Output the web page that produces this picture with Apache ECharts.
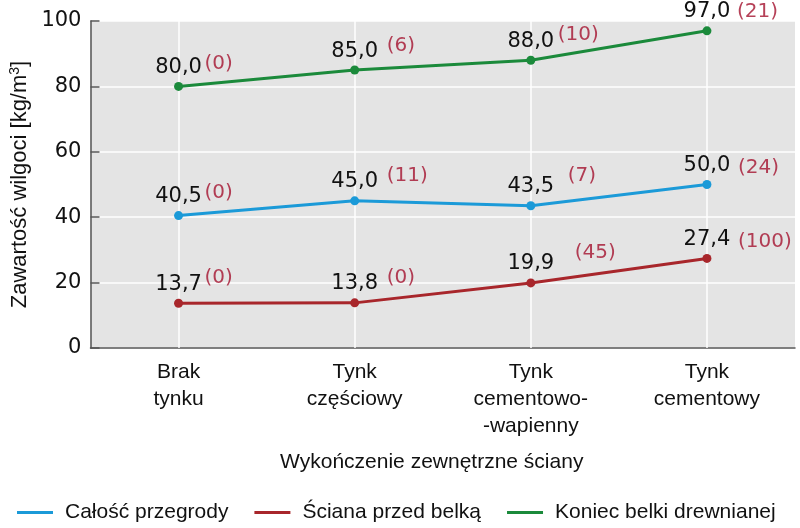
<!DOCTYPE html>
<html lang="pl">
<head>
    <meta charset="UTF-8">
    <title>Zawartość wilgoci</title>
    <script src="https://cdn.jsdelivr.net/npm/echarts@6.0.0/dist/echarts.min.js"></script>
    <style>
        html, body { margin: 0; padding: 0; background: #fff; }
    </style>
</head>
<body>

    <div id="main" style="width:800px; height:528px;"></div>

    <script>
        // dane
        var categories = ['Brak\ntynku', 'Tynk\nczęściowy', 'Tynk\ncementowo-\n-wapienny', 'Tynk\ncementowy'];
        var seriesNames = ['Całość przegrody', 'Ściana przed belką', 'Koniec belki drewnianej'];
        var calosc = [40.5, 45.0, 43.5, 50.0];
        var sciana = [13.7, 13.8, 19.9, 27.4];
        var koniec = [80.0, 85.0, 88.0, 97.0];
        // liczby w nawiasach
        var caloscNote = [0, 11, 7, 24];
        var scianaNote = [0, 0, 45, 100];
        var koniecNote = [0, 6, 10, 21];
        var yTicks = [0, 20, 40, 60, 80, 100];

        // przesunięcia czerwonych opisów względem punktu [dx, dy]
        var noteOffset = [
            [[26, -23], [32, -25], [37, -30], [31, -17]],
            [[26, -25], [32, -25], [44, -30], [31, -17]],
            [[26, -23], [32, -24], [27, -25], [30, -19]]
        ];

        var colors = ['#1b9ad8', '#a8262b', '#1b8a3b'];
        var values = [calosc, sciana, koniec];
        var notes = [caloscNote, scianaNote, koniecNote];

        var charts = echarts.init(document.getElementById('main'));

        // pionowe białe linie siatki na środku kategorii
        var series = [{
            name: 'grid',
            type: 'line',
            data: [],
            silent: true,
            z: 1,
            markLine: {
                silent: true,
                z: 1,
                symbol: 'none',
                animation: false,
                label: { show: false },
                lineStyle: { color: '#fff', width: 1.5, type: 'solid' },
                emphasis: { disabled: true },
                data: categories.map(function (c) { return { xAxis: c }; })
            }
        }];

        values.forEach(function (vals, k) {
            series.push({
                name: seriesNames[k],
                type: 'line',
                data: vals,
                symbol: 'circle',
                symbolSize: 9,
                color: colors[k],
                lineStyle: { width: 3, color: colors[k] },
                itemStyle: { color: colors[k] },
                label: {
                    show: true,
                    position: 'top',
                    distance: 4,
                    fontFamily: 'DejaVu Sans',
                    fontSize: 21,
                    color: '#111',
                    formatter: function (p) {
                        return p.value.toFixed(1).replace('.', ',');
                    }
                },
                emphasis: { disabled: true },
                z: 3
            });
        });
        notes.forEach(function (nts, k) {
            series.push({
                name: 'note' + k,
                type: 'scatter',
                silent: true,
                symbolSize: 1,
                itemStyle: { color: 'rgba(0,0,0,0)' },
                data: values[k].map(function (v, i) {
                    return {
                        value: v,
                        label: { offset: noteOffset[k][i], formatter: '(' + nts[i] + ')' }
                    };
                }),
                label: {
                    show: true,
                    position: 'inside',
                    align: 'left',
                    verticalAlign: 'middle',
                    fontFamily: 'DejaVu Sans',
                    fontSize: 20,
                    color: '#a4122e'
                },
                z: 4
            });
        });

        var options = {
            animation: false,
            backgroundColor: '#fff',
            grid: {
                left: 86,
                right: 5,
                top: 21,
                bottom: 180,
                show: true,
                backgroundColor: '#e4e4e4',
                borderWidth: 0
            },
            legend: {
                data: seriesNames,
                left: 12,
                top: 497,
                icon: 'rect',
                itemWidth: 36,
                itemHeight: 3,
                itemGap: 26,
                textStyle: {
                    fontFamily: 'Liberation Sans',
                    fontSize: 21,
                    color: '#111',
                    padding: [0, 0, 0, 7]
                }
            },
            xAxis: {
                type: 'category',
                data: categories,
                boundaryGap: true,
                name: 'Wykończenie zewnętrzne ściany',
                nameLocation: 'middle',
                nameGap: 104,
                nameTextStyle: {
                    fontFamily: 'Liberation Sans',
                    fontSize: 21,
                    color: '#111',
                    padding: [0, 22, 0, 0]
                },
                axisLine: { lineStyle: { color: '#555', width: 1.5 } },
                axisTick: { alignWithLabel: true, inside: true, length: 8, lineStyle: { color: '#555', width: 1.5 } },
                axisLabel: {
                    margin: 11,
                    fontFamily: 'Liberation Sans',
                    fontSize: 21,
                    lineHeight: 27,
                    color: '#111'
                },
                splitLine: { show: false }
            },
            yAxis: {
                type: 'value',
                min: yTicks[0],
                max: yTicks[yTicks.length - 1],
                interval: 20,
                name: '{a|Zawartość wilgoci [kg/m}{s|3}{a|]}',
                nameLocation: 'middle',
                nameGap: 51,
                nameTextStyle: {
                    rich: {
                        a: { fontFamily: 'Liberation Sans', fontSize: 22, color: '#111' },
                        s: { fontFamily: 'Liberation Sans', fontSize: 14, color: '#111', padding: [0, 0, 9, 0] }
                    }
                },
                axisLine: { show: true, lineStyle: { color: '#555', width: 1.5 } },
                axisTick: { show: true, inside: true, length: 9, lineStyle: { color: '#555', width: 1.5 } },
                axisLabel: {
                    margin: 9,
                    fontFamily: 'DejaVu Sans',
                    fontSize: 21,
                    color: '#111'
                },
                splitLine: { show: true, lineStyle: { color: '#fff', width: 1.5 } }
            },
            series: series
        };

        charts.setOption(options);
    </script>
</body>
</html>
